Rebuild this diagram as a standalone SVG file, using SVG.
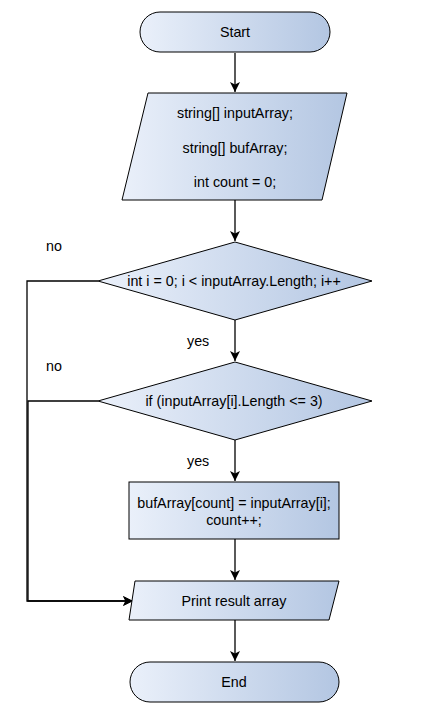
<svg xmlns="http://www.w3.org/2000/svg" width="441" height="705" viewBox="0 0 441 705">
<style>
.shape{stroke:#000;stroke-width:1;fill:url(#g)}
.t{font-family:"Liberation Sans",Arial,sans-serif;font-size:14.3px;fill:#000;text-anchor:middle;dominant-baseline:central}
.lbl{font-family:"Liberation Sans",Arial,sans-serif;font-size:14.3px;fill:#000}
.c{fill:none;stroke:#000;stroke-width:1.3}
</style>
<defs>
<linearGradient id="g" x1="0" y1="0" x2="1" y2="0">
<stop offset="0" stop-color="#eaf0fa"/>
<stop offset="1" stop-color="#b3c6e2"/>
</linearGradient>
<marker id="a" viewBox="0 0 10 10" refX="10" refY="5" markerWidth="10" markerHeight="10" markerUnits="userSpaceOnUse" orient="auto">
<path d="M0,0 L10,5 L0,10 L2.5,5 Z" fill="#000"/>
</marker>
</defs>
<g id="connectors">
<path class="c" d="M235,53 V92" marker-end="url(#a)"/>
<path class="c" d="M235,200 V241" marker-end="url(#a)"/>
<path class="c" d="M235,320 V361" marker-end="url(#a)"/>
<path class="c" d="M235,440 V481" marker-end="url(#a)"/>
<path class="c" d="M235,539 V580" marker-end="url(#a)"/>
<path class="c" d="M235,620 V661" marker-end="url(#a)"/>
<path class="c" d="M98,281 H27 V601 H133" marker-end="url(#a)"/>
<path class="c" d="M98,401 H28 V601 H133" marker-end="url(#a)"/>
<text class="lbl" x="46" y="251">no</text>
<text class="lbl" x="187" y="346">yes</text>
<text class="lbl" x="46" y="371">no</text>
<text class="lbl" x="187" y="466">yes</text>
</g>
<g id="start">
<rect class="shape" x="140" y="12" width="190" height="40" rx="20" ry="20"/>
<text class="t" x="235" y="32">Start</text>
</g>
<g id="declare">
<polygon class="shape" points="148,93 347,93 322,200 122,200"/>
<text class="t" x="235" y="113">string[] inputArray;</text>
<text class="t" x="235" y="148">string[] bufArray;</text>
<text class="t" x="235" y="182">int count = 0;</text>
</g>
<g id="loop">
<polygon class="shape" points="235,242 372,281 235,320 98,281"/>
<text class="t" x="234" y="281">int i = 0; i &lt; inputArray.Length; i++</text>
</g>
<g id="cond">
<polygon class="shape" points="235,362 372,401 235,440 98,401"/>
<text class="t" x="234" y="401">if (inputArray[i].Length &lt;= 3)</text>
</g>
<g id="assign">
<rect class="shape" x="129" y="482" width="210" height="57"/>
<text class="t" x="234" y="503">bufArray[count] = inputArray[i];</text>
<text class="t" x="234" y="520">count++;</text>
</g>
<g id="print">
<polygon class="shape" points="135,581 339,581 329,620 129,620"/>
<text class="t" x="234" y="601">Print result array</text>
</g>
<g id="end">
<rect class="shape" x="130" y="662" width="209" height="40" rx="20" ry="20"/>
<text class="t" x="234" y="682">End</text>
</g>
</svg>
